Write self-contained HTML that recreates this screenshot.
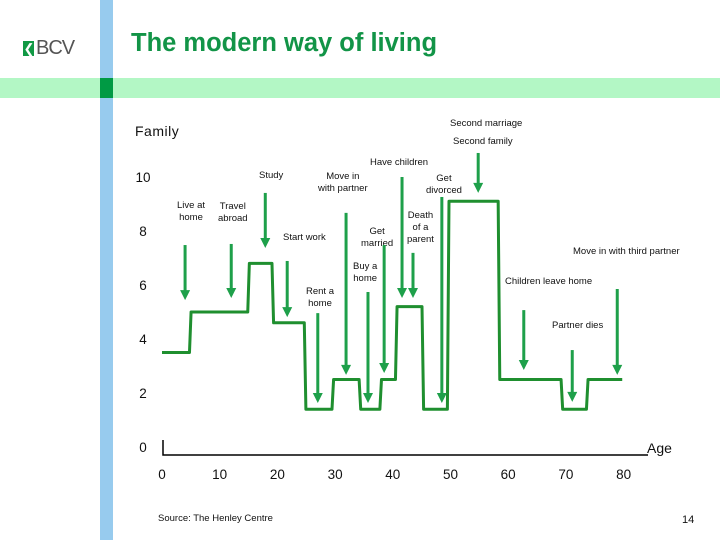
<!DOCTYPE html>
<html><head><meta charset="utf-8"><style>
body{margin:0;width:720px;height:540px;overflow:hidden;background:#fff;font-family:"Liberation Sans",sans-serif;position:relative}
.a{position:absolute;font-size:9.5px;color:#111;text-align:center;line-height:12px;white-space:nowrap}
</style></head><body>
<div style="position:absolute;left:100px;top:0;width:13px;height:540px;background:#97cbee"></div>
<div style="position:absolute;left:0;top:78px;width:720px;height:20px;background:#b3f7c5"></div>
<div style="position:absolute;left:100px;top:78px;width:13px;height:20px;background:#009a44"></div>
<div style="position:absolute;left:23px;top:37px;font-size:20px;color:#555;letter-spacing:-1px"><span style="display:inline-block;width:11px;height:15px;background:#119944;color:#fff;font-size:13px;line-height:15px;text-align:center;vertical-align:1px;margin-right:2px">❮</span>BCV</div>
<div style="position:absolute;left:131px;top:29px;font-size:25.5px;font-weight:bold;color:#129447">The modern way of living</div>
<div style="position:absolute;left:135px;top:123px;font-size:14px;color:#111;letter-spacing:0.5px">Family</div>
<div style="position:absolute;left:647px;top:440px;font-size:14px;color:#111">Age</div>
<div style="position:absolute;left:158px;top:513px;font-size:9.5px;color:#111">Source: The Henley Centre</div>
<div style="position:absolute;left:682px;top:514px;font-size:11px;color:#111">14</div>

<div class="a" style="left:450px;top:118px">Second marriage</div>
<div class="a" style="left:453px;top:136px">Second family</div>
<div class="a" style="left:370px;top:157px">Have children</div>
<div class="a" style="left:259px;top:170px">Study</div>
<div class="a" style="left:318px;top:171px">Move in<br>with partner</div>
<div class="a" style="left:426px;top:173px">Get<br>divorced</div>
<div class="a" style="left:177px;top:200px">Live at<br>home</div>
<div class="a" style="left:218px;top:201px">Travel<br>abroad</div>
<div class="a" style="left:407px;top:210px">Death<br>of a<br>parent</div>
<div class="a" style="left:361px;top:226px">Get<br>married</div>
<div class="a" style="left:283px;top:232px">Start work</div>
<div class="a" style="left:573px;top:246px">Move in with third partner</div>
<div class="a" style="left:353px;top:261px">Buy a<br>home</div>
<div class="a" style="left:505px;top:276px">Children leave home</div>
<div class="a" style="left:306px;top:286px">Rent a<br>home</div>
<div class="a" style="left:552px;top:320px">Partner dies</div>

<svg id="chart" width="720" height="540" style="position:absolute;left:0;top:0"></svg>
<script>
const yTicks=[0,2,4,6,8,10];
const xTicks=[0,10,20,30,40,50,60,70,80];
const stepAges=[0,4.9,15,19.2,24.8,29.6,34.3,37.9,40.6,45.2,49.6,58.4,69.3,73.7,79.9];
const stepLevels=[3.5,5.0,6.8,4.6,1.4,2.5,1.4,2.5,5.2,1.4,9.1,2.5,1.4,2.5];
const arrowAges=[4.0,12.0,17.9,21.7,27.0,31.9,35.7,38.5,41.6,43.5,48.5,54.8,62.7,71.1,78.9];
const arrowTops=[7.48,7.52,9.41,6.89,4.96,8.67,5.74,7.48,10.0,7.19,9.26,10.89,5.07,3.59,5.85];
const arrowTips=[5.44,5.52,7.37,4.81,1.63,2.67,1.63,2.74,5.52,5.52,1.63,9.41,2.85,1.67,2.67];
const arrowNames=['live-at-home','travel-abroad','study','start-work','rent-home','move-in-partner','buy-home','get-married','have-children','death-parent','get-divorced','second-marriage','children-leave','partner-dies','third-partner'];
const X=a=>162+a*5.77, Y=v=>447-v*27;
const svg=document.getElementById('chart'),NS='http://www.w3.org/2000/svg';
function mk(t,at){const e=document.createElementNS(NS,t);for(const k in at)e.setAttribute(k,at[k]);svg.appendChild(e);return e;}
let ax=mk('path',{d:'M163,440 V455 H648',stroke:'#000','stroke-width':1.5,fill:'none'});


yTicks.forEach(v=>{const t=mk('text',{x:143,y:Y(v)+5,'text-anchor':'middle','font-size':13.5,fill:'#111','font-family':'Liberation Sans'});t.textContent=v;

});
xTicks.forEach(v=>{const t=mk('text',{x:X(v),y:479,'text-anchor':'middle','font-size':13.5,fill:'#111','font-family':'Liberation Sans'});t.textContent=v;

});
let d='M'+X(stepAges[0])+','+Y(stepLevels[0]);
for(let i=0;i<stepLevels.length;i++){d+=' L'+(X(stepAges[i+1])-0.8)+','+Y(stepLevels[i]);if(i+1<stepLevels.length)d+=' L'+(X(stepAges[i+1])+0.8)+','+Y(stepLevels[i+1]);}
let ln=mk('path',{d:d,stroke:'#1f8f2f','stroke-width':3,fill:'none','stroke-linejoin':'round'});


arrowAges.forEach((a,i)=>{const x=X(a),y1=Y(arrowTops[i]),y2=Y(arrowTips[i]);
const g=document.createElementNS(NS,'g');svg.appendChild(g);


const l=document.createElementNS(NS,'line');l.setAttribute('x1',x);l.setAttribute('x2',x);l.setAttribute('y1',y1);l.setAttribute('y2',y2-8);l.setAttribute('stroke','#1ea04a');l.setAttribute('stroke-width',3);g.appendChild(l);
const p=document.createElementNS(NS,'path');p.setAttribute('d',`M${x-5},${y2-10} L${x+5},${y2-10} L${x},${y2} Z`);p.setAttribute('fill','#1ea04a');g.appendChild(p);});
</script>
</body></html>
